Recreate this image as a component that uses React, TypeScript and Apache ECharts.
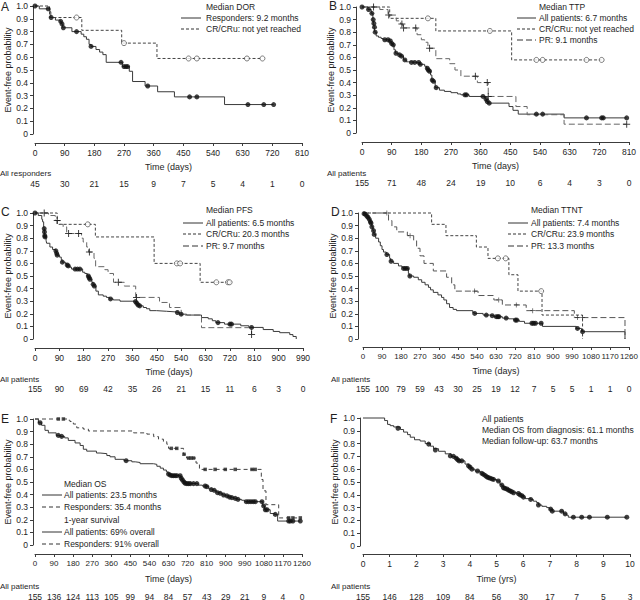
import React, { useEffect, useRef } from "react";
import * as echarts from "echarts";

type Pt = [number, number];

// ---------------- DATA ----------------
// Panel A: Median DOR
const aRisk = [45, 30, 21, 15, 9, 7, 5, 4, 1, 0];
const aResp: Pt[] = [[0,1],[13,0.978],[45,0.955],[48,0.91],[62,0.89],[76,0.88],[80,0.86],[84,0.83],[112,0.80],[140,0.78],[148,0.76],[156,0.74],[164,0.70],[170,0.684],[185,0.66],[196,0.64],[206,0.62],[216,0.56],[265,0.527],[286,0.49],[296,0.41],[334,0.375],[372,0.33],[423,0.29],[575,0.23],[724,0.23]];
const aRespCens: Pt[] = [[0,1],[40,0.978],[49,0.91],[78,0.88],[82,0.86],[86,0.83],[126,0.80],[170,0.684],[261,0.56],[270,0.527],[276,0.527],[281,0.527],[342,0.375],[469,0.29],[491,0.29],[646,0.23],[694,0.23],[724,0.23]];
const aCR: Pt[] = [[0,1],[44,0.91],[142,0.81],[263,0.71],[370,0.59],[690,0.59]];
const aCRCens: Pt[] = [[126,0.91],[270,0.71],[466,0.59],[491,0.59],[643,0.59],[690,0.59]];

// Panel B: Median TTP
const bRisk = [155, 71, 48, 24, 19, 10, 6, 4, 3, 0];
const bAll: Pt[] = [[0,1],[18,0.98],[28,0.95],[33,0.90],[35,0.87],[37,0.84],[39,0.80],[43,0.77],[50,0.76],[58,0.75],[64,0.74],[84,0.73],[88,0.71],[93,0.70],[97,0.66],[102,0.633],[112,0.62],[118,0.61],[126,0.58],[134,0.565],[141,0.56],[174,0.545],[190,0.53],[196,0.514],[200,0.50],[204,0.49],[208,0.46],[212,0.42],[216,0.41],[222,0.36],[235,0.34],[250,0.33],[270,0.32],[290,0.31],[300,0.303],[325,0.29],[374,0.27],[378,0.25],[383,0.237],[446,0.21],[458,0.18],[474,0.15],[613,0.12],[803,0.12]];
const bAllCens: Pt[] = [[0,1],[20,0.98],[30,0.95],[34,0.90],[36,0.87],[38,0.84],[40,0.80],[69,0.74],[79,0.74],[86,0.73],[90,0.71],[95,0.70],[103,0.633],[114,0.62],[120,0.61],[130,0.58],[150,0.56],[160,0.56],[172,0.56],[177,0.545],[198,0.514],[201,0.50],[205,0.49],[213,0.42],[217,0.41],[225,0.36],[312,0.303],[317,0.303],[367,0.29],[376,0.27],[380,0.25],[386,0.237],[529,0.15],[548,0.15],[681,0.12],[727,0.12],[732,0.12],[803,0.12]];
const bCR: Pt[] = [[0,1],[84,0.91],[224,0.81],[454,0.58],[727,0.58]];
const bCRCens: Pt[] = [[200,0.91],[388,0.81],[529,0.58],[548,0.58],[681,0.58],[727,0.58]];
const bPR: Pt[] = [[0,1],[54,0.98],[79,0.936],[104,0.89],[117,0.865],[124,0.834],[167,0.78],[180,0.74],[190,0.72],[200,0.673],[224,0.59],[266,0.55],[282,0.50],[300,0.451],[350,0.40],[383,0.29],[467,0.21],[501,0.145],[613,0.07],[803,0.07]];
const bPRCens: Pt[] = [[35,1],[81,0.936],[121,0.865],[126,0.834],[163,0.834],[205,0.673],[344,0.451],[380,0.40],[383,0.29],[803,0.07]];

// Panel C: Median PFS
const cRisk = [155, 90, 69, 42, 35, 26, 21, 15, 11, 6, 3, 0];
const cAll: Pt[] = [[0,1],[12,0.98],[25,0.95],[28,0.93],[32,0.89],[34,0.876],[35,0.85],[36,0.82],[38,0.81],[41,0.78],[43,0.76],[55,0.73],[65,0.71],[76,0.70],[79,0.68],[81,0.665],[90,0.65],[97,0.63],[100,0.61],[112,0.60],[117,0.587],[122,0.58],[129,0.57],[135,0.555],[176,0.53],[184,0.52],[193,0.50],[199,0.487],[202,0.474],[210,0.45],[214,0.434],[218,0.42],[225,0.38],[234,0.35],[252,0.34],[264,0.33],[275,0.318],[289,0.31],[314,0.30],[370,0.297],[373,0.284],[379,0.27],[385,0.263],[400,0.25],[412,0.24],[424,0.225],[449,0.22],[486,0.215],[520,0.21],[533,0.197],[560,0.19],[615,0.17],[640,0.16],[655,0.145],[668,0.13],[700,0.118],[760,0.105],[790,0.092],[843,0.075],[880,0.06],[904,0.05],[941,0.035],[953,0.02],[965,0]];
const cAllCens: Pt[] = [[0,1],[34,0.876],[35,0.85],[36,0.82],[37,0.81],[77,0.70],[80,0.68],[82,0.665],[101,0.61],[119,0.587],[123,0.58],[148,0.555],[157,0.555],[166,0.555],[197,0.50],[200,0.487],[203,0.474],[215,0.434],[219,0.42],[279,0.318],[371,0.297],[376,0.284],[381,0.27],[387,0.263],[526,0.21],[540,0.197],[676,0.13],[720,0.118],[726,0.118],[800,0.092]];
const cCR: Pt[] = [[0,1],[82,0.91],[223,0.81],[440,0.60],[610,0.45],[719,0.45]];
const cCRCens: Pt[] = [[195,0.91],[524,0.60],[536,0.60],[670,0.45],[713,0.45],[719,0.45]];
const cPR: Pt[] = [[0,1],[50,0.98],[75,0.94],[92,0.91],[104,0.89],[117,0.837],[172,0.80],[178,0.77],[191,0.73],[198,0.69],[218,0.64],[224,0.574],[258,0.55],[270,0.52],[290,0.45],[330,0.42],[372,0.33],[460,0.29],[497,0.25],[540,0.19],[615,0.09],[800,0.035]];
const cPRCens: Pt[] = [[34,1],[82,0.94],[124,0.837],[161,0.837],[201,0.69],[308,0.45],[375,0.33],[800,0.035]];

// Panel D: Median TTNT
const dRisk = [155, 100, 79, 59, 43, 30, 25, 19, 12, 7, 5, 5, 1, 1, 0];
const dAll: Pt[] = [[0,1],[8,0.99],[13,0.987],[19,0.975],[24,0.965],[30,0.95],[35,0.93],[38,0.92],[42,0.89],[47,0.86],[52,0.83],[60,0.80],[74,0.77],[82,0.74],[90,0.71],[97,0.69],[110,0.67],[126,0.64],[131,0.617],[145,0.60],[168,0.58],[184,0.57],[190,0.56],[215,0.52],[219,0.50],[240,0.49],[262,0.47],[278,0.45],[294,0.43],[310,0.41],[320,0.39],[333,0.37],[355,0.35],[372,0.33],[383,0.31],[396,0.28],[410,0.25],[427,0.235],[443,0.225],[520,0.21],[527,0.203],[569,0.19],[600,0.185],[620,0.177],[660,0.166],[690,0.16],[715,0.15],[740,0.14],[765,0.125],[850,0.10],[1010,0.084],[1035,0.058],[1241,0.058],[1241,0]];
const dAllCens: Pt[] = [[5,0.995],[11,0.99],[19,0.975],[24,0.965],[30,0.95],[35,0.93],[38,0.92],[42,0.89],[50,0.86],[53,0.83],[113,0.67],[133,0.617],[192,0.56],[201,0.56],[210,0.56],[222,0.50],[529,0.203],[584,0.19],[612,0.185],[631,0.177],[639,0.177],[644,0.177],[678,0.166],[722,0.15],[729,0.15],[800,0.125],[808,0.125],[817,0.125],[844,0.125],[1016,0.084],[1040,0.058]];
const dCR: Pt[] = [[0,1],[325,0.91],[393,0.82],[537,0.73],[592,0.64],[691,0.51],[734,0.38],[848,0.19],[1040,0.19],[1040,0]];
const dCRCens: Pt[] = [[639,0.64],[676,0.64],[844,0.38]];
const dPR: Pt[] = [[0,1],[121,0.94],[137,0.89],[160,0.85],[210,0.82],[240,0.78],[254,0.72],[270,0.66],[289,0.60],[333,0.54],[396,0.49],[420,0.43],[435,0.38],[545,0.345],[620,0.31],[660,0.27],[773,0.225],[1001,0.17],[1241,0.17],[1241,0]];
const dPRCens: Pt[] = [[113,1],[223,0.82],[529,0.38],[643,0.31],[726,0.27],[804,0.225],[1016,0.17],[1040,0.17]];

// Panel E: Median OS
const eRisk = [155, 136, 124, 113, 105, 99, 94, 84, 57, 43, 29, 21, 9, 4, 0];
const eAll: Pt[] = [[0,1],[16,0.97],[31,0.95],[47,0.91],[63,0.89],[100,0.87],[120,0.862],[140,0.85],[157,0.83],[189,0.81],[213,0.79],[228,0.76],[244,0.745],[290,0.73],[307,0.725],[339,0.71],[354,0.70],[378,0.68],[420,0.669],[457,0.66],[473,0.655],[496,0.645],[559,0.64],[575,0.625],[591,0.61],[606,0.595],[620,0.58],[628,0.563],[636,0.555],[644,0.55],[688,0.53],[694,0.516],[700,0.50],[706,0.49],[714,0.487],[770,0.475],[790,0.468],[808,0.463],[820,0.445],[830,0.44],[842,0.434],[855,0.42],[860,0.415],[870,0.41],[885,0.397],[900,0.39],[915,0.38],[925,0.376],[940,0.37],[955,0.362],[975,0.355],[990,0.344],[1075,0.31],[1083,0.28],[1110,0.25],[1130,0.243],[1145,0.19],[1252,0.19]];
const eAllCens: Pt[] = [[24,0.97],[110,0.87],[126,0.862],[430,0.669],[630,0.563],[638,0.555],[646,0.55],[654,0.55],[662,0.55],[670,0.55],[685,0.55],[690,0.53],[696,0.516],[703,0.50],[709,0.49],[717,0.487],[725,0.487],[733,0.487],[748,0.487],[764,0.487],[803,0.468],[811,0.463],[832,0.44],[846,0.434],[861,0.415],[874,0.41],[890,0.397],[906,0.39],[918,0.38],[929,0.376],[945,0.37],[958,0.362],[997,0.344],[1008,0.344],[1019,0.344],[1030,0.344],[1040,0.344],[1071,0.344],[1079,0.31],[1087,0.28],[1095,0.28],[1134,0.243],[1197,0.19],[1205,0.19],[1217,0.19],[1252,0.19]];
const eResp: Pt[] = [[0,1],[155,0.99],[165,0.98],[181,0.96],[197,0.93],[228,0.92],[252,0.905],[465,0.89],[528,0.88],[560,0.86],[583,0.84],[606,0.82],[622,0.80],[630,0.767],[701,0.72],[715,0.69],[760,0.65],[776,0.60],[1068,0.52],[1076,0.43],[1090,0.32],[1150,0.215],[1252,0.215]];
const eRespCens: Pt[] = [[110,1],[134,1],[643,0.767],[669,0.767],[703,0.72],[725,0.69],[736,0.69],[748,0.69],[803,0.60],[850,0.60],[898,0.60],[945,0.60],[1024,0.60],[1039,0.60],[1197,0.215],[1217,0.215],[1252,0.215]];

// Panel F: OS from diagnosis (years)
const fRisk = [155, 146, 128, 109, 84, 56, 30, 17, 7, 5, 3];
const fAll: Pt[] = [[0,1],[0.81,0.98],[0.92,0.95],[1.02,0.94],[1.15,0.93],[1.4,0.91],[1.52,0.89],[1.67,0.87],[1.77,0.85],[1.93,0.83],[2.14,0.82],[2.33,0.80],[2.52,0.78],[2.64,0.76],[2.83,0.74],[3.08,0.72],[3.3,0.70],[3.45,0.69],[3.52,0.675],[3.58,0.665],[3.82,0.64],[3.95,0.626],[4.01,0.615],[4.08,0.60],[4.2,0.585],[4.39,0.57],[4.47,0.56],[4.55,0.55],[4.64,0.54],[4.72,0.53],[4.88,0.52],[5.01,0.508],[5.13,0.48],[5.2,0.47],[5.26,0.455],[5.38,0.445],[5.45,0.437],[5.53,0.424],[5.64,0.416],[5.77,0.41],[5.88,0.40],[5.95,0.393],[6.01,0.382],[6.07,0.37],[6.28,0.364],[6.38,0.35],[6.5,0.34],[6.57,0.32],[6.7,0.31],[6.88,0.30],[6.98,0.288],[7.09,0.272],[7.51,0.251],[7.63,0.24],[7.69,0.225],[9.88,0.225]];
const fAllCens: Pt[] = [[1.31,0.92],[2.46,0.796],[2.71,0.75],[3.27,0.704],[3.39,0.70],[3.49,0.686],[3.54,0.675],[3.6,0.665],[3.7,0.665],[3.95,0.626],[4.01,0.615],[4.08,0.60],[4.29,0.586],[4.45,0.568],[4.51,0.56],[4.58,0.55],[4.64,0.54],[4.7,0.534],[4.76,0.53],[4.83,0.524],[4.89,0.52],[5.07,0.508],[5.2,0.476],[5.26,0.455],[5.32,0.45],[5.39,0.445],[5.45,0.437],[5.51,0.43],[5.57,0.424],[5.64,0.416],[5.82,0.41],[5.88,0.40],[5.95,0.393],[6.01,0.382],[6.28,0.364],[6.57,0.32],[7.03,0.288],[7.09,0.272],[7.44,0.272],[7.57,0.251],[7.88,0.225],[8.19,0.225],[8.48,0.225],[9.15,0.225],[9.88,0.225]];

// ---------------- STYLE / LAYOUT ----------------
const FONT = "'Liberation Sans', Arial, Helvetica, sans-serif";
const AX = "#3c3c3c";
const TXT = "#1e1e1e";
const SOLID = "#3a3a3a";
const SHORT = [3, 2];
const LONG = [6, 3];
const PLUS = "path://M3,0h1v3h3v1h-3v3h-1v-3h-3v-1h3z";

type Mark = "dot" | "open" | "plus" | "splus" | "square";
interface Curve { name: string; data: Pt[]; dash: number[] | null; color: string; cens: Pt[]; mark: Mark; }
interface LegendRow { text: string; dash?: number[] | null; line?: boolean; y: number; }
interface Panel {
  left: number; top: number; width: number; height: number;
  xMax: number; xStep: number; xName: string; xOff: number; yOff: number; riskOff: number;
  yNameGap: number; xNameGap: number; xLabelSize: number; xLabelBox?: number;
  risk: number[]; riskTitle: string; riskTitleX: number; riskTitleY: number;
  letter: string; letterX: number; letterY: number;
  curves: Curve[];
  legendX1: number; legendX2: number; legendTX: number; legend: LegendRow[];
}

const panels: Panel[] = [
  {
    left: 35, top: 6, width: 267, height: 128, xMax: 810, xStep: 90, xName: "Time (days)", xOff: 9, yOff: 2, riskOff: 34,
    yNameGap: 21, xNameGap: 19, xLabelSize: 8.5, risk: aRisk, riskTitle: "All responders", riskTitleX: 0, riskTitleY: 173,
    letter: "A", letterX: 1, letterY: 7,
    curves: [
      { name: "Responders: 9.2 months", data: aResp, dash: null, color: SOLID, cens: aRespCens, mark: "dot" },
      { name: "CR/CRu: not yet reached", data: aCR, dash: SHORT, color: "#444", cens: aCRCens, mark: "open" },
    ],
    legendX1: 181, legendX2: 201, legendTX: 206,
    legend: [
      { text: "Median DOR", line: false, y: 7 },
      { text: "Responders: 9.2 months", dash: null, line: true, y: 18 },
      { text: "CR/CRu: not yet reached", dash: SHORT, line: true, y: 29 },
    ],
  },
  {
    left: 362, top: 7, width: 267, height: 126, xMax: 810, xStep: 90, xName: "Time (days)", xOff: 9, yOff: 6, riskOff: 34,
    yNameGap: 19, xNameGap: 19, xLabelSize: 8.5, risk: bRisk, riskTitle: "All patients", riskTitleX: 327, riskTitleY: 173,
    letter: "B", letterX: 329, letterY: 6,
    curves: [
      { name: "All patients: 6.7 months", data: bAll, dash: null, color: SOLID, cens: bAllCens, mark: "dot" },
      { name: "CR/CRu: not yet reached ", data: bCR, dash: SHORT, color: "#444", cens: bCRCens, mark: "open" },
      { name: "PR: 9.1 months", data: bPR, dash: LONG, color: "#666", cens: bPRCens, mark: "plus" },
    ],
    legendX1: 517, legendX2: 536, legendTX: 539,
    legend: [
      { text: "Median TTP", line: false, y: 7 },
      { text: "All patients: 6.7 months", dash: null, line: true, y: 18 },
      { text: "CR/CRu: not yet reached", dash: SHORT, line: true, y: 29 },
      { text: "PR: 9.1 months", dash: LONG, line: true, y: 40 },
    ],
  },
  {
    left: 35, top: 213, width: 268, height: 126, xMax: 990, xStep: 90, xName: "Time (days)", xOff: 9, yOff: 2, riskOff: 34,
    yNameGap: 21, xNameGap: 19, xLabelSize: 8.5, risk: cRisk, riskTitle: "All patients", riskTitleX: 0, riskTitleY: 379,
    letter: "C", letterX: 1, letterY: 212,
    curves: [
      { name: "All patients: 6.5 months", data: cAll, dash: null, color: SOLID, cens: cAllCens, mark: "dot" },
      { name: "CR/CRu: 20.3 months", data: cCR, dash: SHORT, color: "#444", cens: cCRCens, mark: "open" },
      { name: "PR: 9.7 months", data: cPR, dash: LONG, color: "#666", cens: cPRCens, mark: "plus" },
    ],
    legendX1: 183, legendX2: 203, legendTX: 206,
    legend: [
      { text: "Median PFS", line: false, y: 210 },
      { text: "All patients: 6.5 months", dash: null, line: true, y: 223 },
      { text: "CR/CRu: 20.3 months", dash: SHORT, line: true, y: 234 },
      { text: "PR: 9.7 months", dash: LONG, line: true, y: 246 },
    ],
  },
  {
    left: 363, top: 213, width: 266, height: 126, xMax: 1260, xStep: 90, xName: "Time (days)", xOff: 8, yOff: 5, riskOff: 35,
    yNameGap: 20, xNameGap: 19, xLabelSize: 8, xLabelBox: 14, risk: dRisk, riskTitle: "All patients", riskTitleX: 331, riskTitleY: 379,
    letter: "D", letterX: 331, letterY: 212,
    curves: [
      { name: "All patients: 7.4 months", data: dAll, dash: null, color: SOLID, cens: dAllCens, mark: "dot" },
      { name: "CR/CRu: 23.9 months", data: dCR, dash: SHORT, color: "#444", cens: dCRCens, mark: "open" },
      { name: "PR: 13.3 months", data: dPR, dash: LONG, color: "#555", cens: dPRCens, mark: "splus" },
    ],
    legendX1: 508, legendX2: 528, legendTX: 531,
    legend: [
      { text: "Median TTNT", line: false, y: 210 },
      { text: "All patients: 7.4 months", dash: null, line: true, y: 223 },
      { text: "CR/CRu: 23.9 months", dash: SHORT, line: true, y: 234 },
      { text: "PR: 13.3 months", dash: LONG, line: true, y: 246 },
    ],
  },
  {
    left: 35, top: 419, width: 267, height: 126, xMax: 1260, xStep: 90, xName: "Time (days)", xOff: 9, yOff: 2, riskOff: 36,
    yNameGap: 21, xNameGap: 20, xLabelSize: 8, xLabelBox: 14, risk: eRisk, riskTitle: "All patients", riskTitleX: 0, riskTitleY: 586,
    letter: "E", letterX: 1, letterY: 419,
    curves: [
      { name: "All patients: 23.5 months", data: eAll, dash: null, color: SOLID, cens: eAllCens, mark: "dot" },
      { name: "Responders: 35.4 months", data: eResp, dash: [4, 3], color: "#444", cens: eRespCens, mark: "square" },
    ],
    legendX1: 42, legendX2: 62, legendTX: 64,
    legend: [
      { text: "Median OS", line: false, y: 484 },
      { text: "All patients: 23.5 months", dash: null, line: true, y: 495 },
      { text: "Responders: 35.4 months", dash: [4, 3], line: true, y: 507 },
      { text: "1-year survival", line: false, y: 520 },
      { text: "All patients: 69% overall", dash: null, line: true, y: 532 },
      { text: "Responders: 91% overall", dash: [4, 3], line: true, y: 544 },
    ],
  },
  {
    left: 363, top: 418, width: 267, height: 128, xMax: 10, xStep: 1, xName: "Time (yrs)", xOff: 8, yOff: 3, riskOff: 36,
    yNameGap: 21, xNameGap: 20, xLabelSize: 8.5, risk: fRisk, riskTitle: "All patients", riskTitleX: 331, riskTitleY: 586,
    letter: "F", letterX: 330, letterY: 419,
    curves: [
      { name: "All patients (OS from diagnosis)", data: fAll, dash: null, color: SOLID, cens: fAllCens, mark: "dot" },
    ],
    legendX1: 0, legendX2: 0, legendTX: 482,
    legend: [
      { text: "All patients", line: false, y: 419 },
      { text: "Median OS from diagnosis: 61.1 months", line: false, y: 430 },
      { text: "Median follow-up: 63.7 months", line: false, y: 441 },
    ],
  },
];

function markStyle(m: Mark) {
  switch (m) {
    case "dot": return { symbol: "circle", symbolSize: 5, itemStyle: { color: "#111" } };
    case "open": return { symbol: "circle", symbolSize: 5, itemStyle: { color: "#fff", borderColor: "#333", borderWidth: 0.8 } };
    case "plus": return { symbol: PLUS, symbolSize: 7, itemStyle: { color: "#111" } };
    case "splus": return { symbol: PLUS, symbolSize: 5, itemStyle: { color: "#222" } };
    case "square": return { symbol: "rect", symbolSize: 3.5, itemStyle: { color: "#222" } };
  }
}

function buildOption() {
  const grid: any[] = [];
  const xAxis: any[] = [];
  const yAxis: any[] = [];
  const series: any[] = [];
  const graphic: any[] = [];
  const txt = (text: string, x: number, y: number, size = 8.5, align = "left") => ({
    type: "text", x, y, silent: true,
    style: { text, fontSize: size, fontFamily: FONT, fill: TXT, align, verticalAlign: "middle" },
  });

  panels.forEach((p, i) => {
    grid.push({ left: p.left, top: p.top, width: p.width, height: p.height, containLabel: false, outerBoundsMode: "none" });
    const xLabel: any = {
      fontSize: p.xLabelSize, color: TXT, margin: 5, fontFamily: FONT, showMinLabel: true, showMaxLabel: true,
      hideOverlap: false, interval: 0, formatter: (v: number) => String(v),
    };
    if (p.xLabelBox) { xLabel.width = p.xLabelBox; xLabel.overflow = "none"; xLabel.align = "center"; }
    xAxis.push({
      type: "value", gridIndex: i, min: 0, max: p.xMax, interval: p.xStep, position: "bottom", offset: p.xOff,
      axisLine: { show: true, onZero: false, lineStyle: { color: AX, width: 1 } },
      axisTick: { show: true, length: 3, lineStyle: { color: AX, width: 1 } },
      axisLabel: xLabel,
      splitLine: { show: false },
      name: p.xName, nameLocation: "middle", nameGap: p.xNameGap,
      nameTextStyle: { fontSize: 9, color: TXT, fontFamily: FONT },
    });
    xAxis.push({
      type: "value", gridIndex: i, min: 0, max: p.xMax, interval: p.xStep, position: "bottom", offset: p.xOff + p.riskOff,
      axisLine: { show: false, onZero: false }, axisTick: { show: false }, splitLine: { show: false },
      axisLabel: {
        fontSize: 8.5, color: TXT, margin: 2, fontFamily: FONT, showMinLabel: true, showMaxLabel: true, hideOverlap: false, interval: 0,
        formatter: (v: number) => { const r = p.risk[Math.round(v / p.xStep)]; return r === undefined ? "" : String(r); },
      },
    });
    yAxis.push({
      type: "value", gridIndex: i, min: 0, max: 1, interval: 0.1, position: "left", offset: p.yOff,
      axisLine: { show: true, onZero: false, lineStyle: { color: AX, width: 1 } },
      axisTick: { show: true, length: 3, lineStyle: { color: AX, width: 1 } },
      axisLabel: { fontSize: 8.5, color: TXT, margin: 5, fontFamily: FONT, formatter: (v: number) => (v === 0 ? "0" : v.toFixed(1)) },
      splitLine: { show: false },
      name: "Event-free probability", nameLocation: "middle", nameGap: p.yNameGap,
      nameTextStyle: { fontSize: 9, color: TXT, fontFamily: FONT },
    });
    p.curves.forEach((c) => {
      series.push({
        type: "line", name: c.name, xAxisIndex: 2 * i, yAxisIndex: i, data: c.data, step: "end",
        symbol: "none", showSymbol: false, clip: false, silent: true, z: 2,
        lineStyle: { color: c.color, width: 1, type: c.dash ? c.dash : "solid" },
      });
      series.push({
        type: "scatter", name: c.name + " censored", xAxisIndex: 2 * i, yAxisIndex: i, data: c.cens,
        clip: false, silent: true, z: 3, ...markStyle(c.mark),
      });
    });
    graphic.push(txt(p.letter, p.letterX, p.letterY, 12));
    graphic.push(txt(p.riskTitle, p.riskTitleX, p.riskTitleY, 8));
    p.legend.forEach((r) => {
      if (r.line) {
        graphic.push({
          type: "line", silent: true,
          shape: { x1: p.legendX1, y1: r.y, x2: p.legendX2, y2: r.y },
          style: { stroke: "#333", lineWidth: 1, lineDash: r.dash ? r.dash : null },
        });
      }
      graphic.push(txt(r.text, p.legendTX, r.y, 8.5));
    });
  });

  return {
    animation: false,
    backgroundColor: "#fff",
    textStyle: { fontFamily: FONT },
    grid, xAxis, yAxis, series, graphic,
  };
}

export default function App() {
  const ref = useRef<HTMLDivElement>(null);
  useEffect(() => {
    if (!ref.current) return;
    const chart = echarts.init(ref.current, undefined, { renderer: "svg" });
    chart.setOption(buildOption() as any);
    return () => chart.dispose();
  }, []);
  return <div ref={ref} style={{ position: "fixed", left: 0, top: 0, width: 640, height: 600, background: "#fff" }} />;
}
